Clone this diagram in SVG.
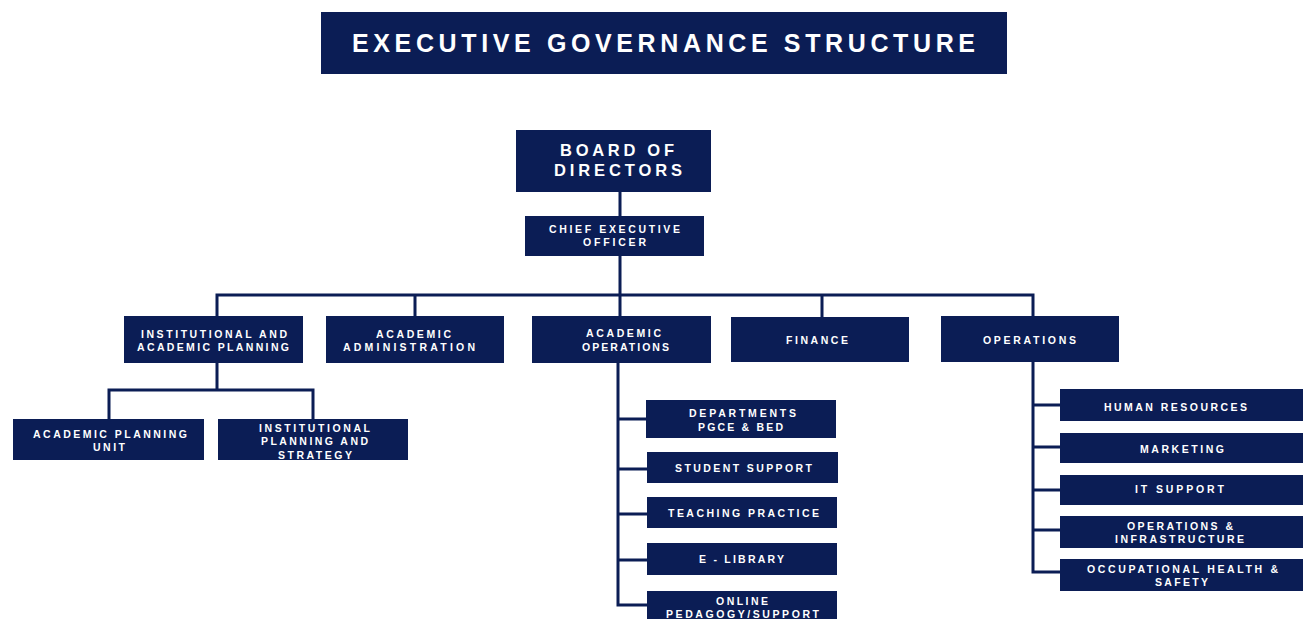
<svg xmlns="http://www.w3.org/2000/svg" width="1309" height="619" viewBox="0 0 1309 619">
<style>
.box{fill:#0b1d55;}
.t{fill:#ffffff;font-family:"Liberation Sans",Arial,sans-serif;font-weight:bold;font-size:10.5px;text-anchor:middle;}
.big{font-size:16.5px;}
.title{font-size:25px;}
.ln{stroke:#0b1d55;stroke-width:3;fill:none;stroke-linejoin:miter;}
</style>
<rect width="1309" height="619" fill="#ffffff"/>
<g id="connectors">
<path class="ln" d="M620 192 V216 M620 256 V317"/>
<path class="ln" d="M217 317 V295 H1033 V317"/>
<path class="ln" d="M415 295 V317 M822 295 V317"/>
<path class="ln" d="M217 363 V390 M109 419 V390 H313 V419"/>
<path class="ln" d="M618 363 V605 H647 M618 419 H647 M618 469 H647 M618 514 H647 M618 560 H647"/>
<path class="ln" d="M1033 362 V572 H1061 M1033 405 H1061 M1033 447 H1061 M1033 490 H1061 M1033 530 H1061"/>
</g>
<g id="title">
<rect class="box" x="321" y="12" width="686" height="62"/>
<text class="t title" x="663.5" y="52" textLength="623" lengthAdjust="spacing">EXECUTIVE GOVERNANCE STRUCTURE</text>
</g>
<g id="board">
<rect class="box" x="516" y="130" width="195" height="62"/>
<text class="t big" x="617" y="156" textLength="114" lengthAdjust="spacing">BOARD OF</text>
<text class="t big" x="618" y="176" textLength="128" lengthAdjust="spacing">DIRECTORS</text>
</g>
<g id="ceo">
<rect class="box" x="525" y="216" width="179" height="40"/>
<text class="t" x="614.5" y="233" textLength="131" lengthAdjust="spacing">CHIEF EXECUTIVE</text>
<text class="t" x="614.5" y="246" textLength="63" lengthAdjust="spacing">OFFICER</text>
</g>
<g id="iap">
<rect class="box" x="124" y="316" width="179" height="47"/>
<text class="t" x="214" y="337.5" textLength="146" lengthAdjust="spacing">INSTITUTIONAL AND</text>
<text class="t" x="213" y="351" textLength="152" lengthAdjust="spacing">ACADEMIC PLANNING</text>
</g>
<g id="aa">
<rect class="box" x="326" y="316" width="178" height="47"/>
<text class="t" x="413.5" y="337.5" textLength="75" lengthAdjust="spacing">ACADEMIC</text>
<text class="t" x="409" y="351" textLength="132" lengthAdjust="spacing">ADMINISTRATION</text>
</g>
<g id="ao">
<rect class="box" x="532" y="316" width="179" height="47"/>
<text class="t" x="623.5" y="337" textLength="75" lengthAdjust="spacing">ACADEMIC</text>
<text class="t" x="625.5" y="351" textLength="87" lengthAdjust="spacing">OPERATIONS</text>
</g>
<g id="finance">
<rect class="box" x="731" y="317" width="178" height="45"/>
<text class="t" x="817" y="344" textLength="62" lengthAdjust="spacing">FINANCE</text>
</g>
<g id="operations">
<rect class="box" x="941" y="316" width="178" height="46"/>
<text class="t" x="1029.5" y="344" textLength="93" lengthAdjust="spacing">OPERATIONS</text>
</g>
<g id="apu">
<rect class="box" x="13" y="419" width="191" height="41"/>
<text class="t" x="110" y="437.5" textLength="154" lengthAdjust="spacing">ACADEMIC PLANNING</text>
<text class="t" x="109" y="450.5" textLength="32" lengthAdjust="spacing">UNIT</text>
</g>
<g id="ips">
<rect class="box" x="218" y="419" width="190" height="41"/>
<text class="t" x="314.5" y="431.5" textLength="111" lengthAdjust="spacing">INSTITUTIONAL</text>
<text class="t" x="314.5" y="445" textLength="107" lengthAdjust="spacing">PLANNING AND</text>
<text class="t" x="315" y="458.5" textLength="74" lengthAdjust="spacing">STRATEGY</text>
</g>
<g id="departments">
<rect class="box" x="646" y="400" width="190" height="38"/>
<text class="t" x="742.5" y="416.5" textLength="107" lengthAdjust="spacing">DEPARTMENTS</text>
<text class="t" x="740.5" y="431" textLength="85" lengthAdjust="spacing">PGCE &amp; BED</text>
</g>
<g id="student-support">
<rect class="box" x="647" y="452" width="191" height="31"/>
<text class="t" x="743.5" y="472" textLength="137" lengthAdjust="spacing">STUDENT SUPPORT</text>
</g>
<g id="teaching-practice">
<rect class="box" x="647" y="497" width="190" height="31"/>
<text class="t" x="743.5" y="517" textLength="151" lengthAdjust="spacing">TEACHING PRACTICE</text>
</g>
<g id="e-library">
<rect class="box" x="647" y="543" width="190" height="32"/>
<text class="t" x="741.5" y="563" textLength="85" lengthAdjust="spacing">E - LIBRARY</text>
</g>
<g id="online">
<rect class="box" x="647" y="591" width="190" height="34"/>
<text class="t" x="742" y="604.5" textLength="52" lengthAdjust="spacing">ONLINE</text>
<text class="t" x="742.5" y="617.5" textLength="153" lengthAdjust="spacing">PEDAGOGY/SUPPORT</text>
</g>
<g id="hr">
<rect class="box" x="1060" y="389" width="243" height="32"/>
<text class="t" x="1175.5" y="411" textLength="143" lengthAdjust="spacing">HUMAN RESOURCES</text>
</g>
<g id="marketing">
<rect class="box" x="1060" y="433" width="243" height="30"/>
<text class="t" x="1182" y="453" textLength="84" lengthAdjust="spacing">MARKETING</text>
</g>
<g id="it-support">
<rect class="box" x="1060" y="475" width="243" height="30"/>
<text class="t" x="1179.5" y="493" textLength="89" lengthAdjust="spacing">IT SUPPORT</text>
</g>
<g id="ops-infra">
<rect class="box" x="1060" y="516" width="243" height="32"/>
<text class="t" x="1180" y="530" textLength="106" lengthAdjust="spacing">OPERATIONS &amp;</text>
<text class="t" x="1179.5" y="543" textLength="129" lengthAdjust="spacing">INFRASTRUCTURE</text>
</g>
<g id="ohs">
<rect class="box" x="1060" y="559" width="243" height="32"/>
<text class="t" x="1182.5" y="573" textLength="191" lengthAdjust="spacing">OCCUPATIONAL HEALTH &amp;</text>
<text class="t" x="1181.5" y="586" textLength="53" lengthAdjust="spacing">SAFETY</text>
</g>
</svg>
